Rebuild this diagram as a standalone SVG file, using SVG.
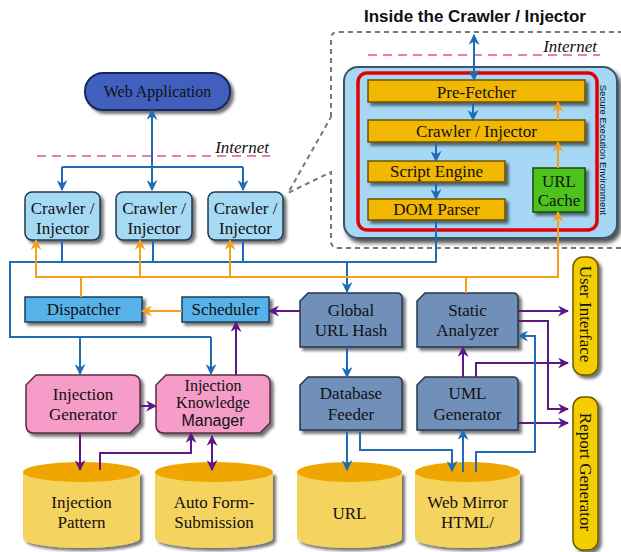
<svg xmlns="http://www.w3.org/2000/svg" width="621" height="552" viewBox="0 0 621 552">
<defs>
<filter id="sh" x="-20%" y="-20%" width="150%" height="150%">
<feDropShadow dx="3" dy="3" stdDeviation="1.5" flood-color="#000" flood-opacity="0.55"/>
</filter>
<filter id="sh2" x="-20%" y="-20%" width="150%" height="150%">
<feDropShadow dx="3" dy="4" stdDeviation="2" flood-color="#000" flood-opacity="0.7"/>
</filter>
<marker id="ab" viewBox="0 0 10 10" refX="9" refY="5" markerWidth="11" markerHeight="11" markerUnits="userSpaceOnUse" orient="auto-start-reverse"><path d="M0,0 L10,5 L0,10 L3,5 z" fill="#1F6BB5"/></marker>
<marker id="ao" viewBox="0 0 10 10" refX="9" refY="5" markerWidth="11" markerHeight="11" markerUnits="userSpaceOnUse" orient="auto-start-reverse"><path d="M0,0 L10,5 L0,10 L3,5 z" fill="#F5A11E"/></marker>
<marker id="ap" viewBox="0 0 10 10" refX="9" refY="5" markerWidth="11" markerHeight="11" markerUnits="userSpaceOnUse" orient="auto-start-reverse"><path d="M0,0 L10,5 L0,10 L3,5 z" fill="#5E1883"/></marker>
</defs>
<style>
text{font-family:"Liberation Serif","Times New Roman",serif;font-size:17px;fill:#111;text-anchor:middle}
.sans{font-family:"Liberation Sans",Arial,sans-serif}
.it{font-style:italic;text-anchor:end}
.b{fill:none;stroke:#1F6BB5;stroke-width:2}
.o{fill:none;stroke:#F5A11E;stroke-width:2}
.p{fill:none;stroke:#5E1883;stroke-width:2}
.bl{marker-end:url(#ab)}
.ol{marker-end:url(#ao)}
.pl{marker-end:url(#ap)}
.crawl{fill:#A6D9F4;stroke:#1E3A4E;stroke-width:1.5}
.disp{fill:#58B2EA;stroke:#1C3C58;stroke-width:1.5}
.steel{fill:#7090BA;stroke:#26364E;stroke-width:1.5}
.pink{fill:#F59CC8;stroke:#5E2A46;stroke-width:1.5}
.bar{fill:#F2B705;stroke:#6E5200;stroke-width:1.5}
.side{fill:#F4CE05;stroke:#6B5800;stroke-width:1.5}
.cyl{fill:#F5D35E}
.cyltop{fill:#EFA600}
</style>

<!-- Inset callout -->
<g id="inset">
<path d="M331,117 L331,39 Q331,32 338,32 L621,32 M621,248 L338,248 Q331,248 331,241 L331,172 L288,193 L331,117" fill="none" stroke="#777" stroke-width="2" stroke-dasharray="5,4"/>
<text x="475" y="22" class="sans" style="font-weight:bold">Inside the Crawler / Injector</text>
<line x1="368" y1="55" x2="600" y2="55" stroke="#EE4F9A" stroke-width="1.5" stroke-dasharray="9,6"/>
<text x="597" y="52" class="it">Internet</text>
</g>

<g id="secure-env">
<rect x="344" y="67" width="273" height="171" rx="14" fill="#A6D8F5" stroke="#3A5468" stroke-width="2" filter="url(#sh2)"/>
<rect x="358" y="73" width="239" height="157" rx="9" fill="none" stroke="#E30000" stroke-width="3.5"/>
<text class="sans" transform="translate(603,150) rotate(90)" y="3.5" style="font-size:9.5px">Secure Execution Environment</text>
</g>
<g id="pre-fetcher"><rect class="bar" x="368" y="80" width="217" height="22" filter="url(#sh)"/><text x="476.5" y="97.5">Pre-Fetcher</text></g>
<g id="crawler-injector-inner"><rect class="bar" x="368" y="120" width="217" height="22" filter="url(#sh)"/><text x="476.5" y="137">Crawler / Injector</text></g>
<g id="script-engine"><rect class="bar" x="368" y="161" width="137" height="21" filter="url(#sh)"/><text x="436.5" y="177">Script Engine</text></g>
<g id="dom-parser"><rect class="bar" x="368" y="199" width="137" height="21" filter="url(#sh)"/><text x="436.5" y="215">DOM Parser</text></g>
<g id="url-cache"><rect x="533" y="168" width="52" height="44" fill="#4DC41A" stroke="#1C4A08" stroke-width="1.5" filter="url(#sh)"/><text x="559" y="187">URL</text><text x="559" y="206">Cache</text></g>

<!-- Main nodes -->
<g id="web-app"><rect x="85" y="73" width="145" height="37" rx="18" fill="#3F5FBE" stroke="#18285A" stroke-width="2" filter="url(#sh)"/><text x="157.5" y="97" style="font-size:16px">Web Application</text></g>
<line x1="37" y1="156" x2="270" y2="156" stroke="#EE4F9A" stroke-width="1.5" stroke-dasharray="9,6"/>
<text x="269" y="153" class="it">Internet</text>

<g id="crawler1"><rect class="crawl" x="25" y="192" width="75" height="48" rx="7" filter="url(#sh)"/><text x="62.5" y="214">Crawler /</text><text x="62.5" y="234">Injector</text></g>
<g id="crawler2"><rect class="crawl" x="116" y="192" width="76" height="48" rx="7" filter="url(#sh)"/><text x="154" y="214">Crawler /</text><text x="154" y="234">Injector</text></g>
<g id="crawler3"><rect class="crawl" x="208" y="192" width="75" height="48" rx="7" filter="url(#sh)"/><text x="245.5" y="214">Crawler /</text><text x="245.5" y="234">Injector</text></g>

<g id="dispatcher"><rect class="disp" x="25" y="297" width="117" height="25" filter="url(#sh)"/><text x="83.5" y="315">Dispatcher</text></g>
<g id="scheduler"><rect class="disp" x="182" y="297" width="87" height="25" filter="url(#sh)"/><text x="225.5" y="315">Scheduler</text></g>

<g id="global-url-hash"><path class="steel" d="M308,293 L397,293 Q402,293 402,298 L402,347 L300,347 L300,301 Z" filter="url(#sh)"/><text x="351" y="316">Global</text><text x="351" y="336">URL Hash</text></g>
<g id="static-analyzer"><path class="steel" d="M425,293 L513,293 Q518,293 518,298 L518,347 L417,347 L417,301 Z" filter="url(#sh)"/><text x="467.5" y="316">Static</text><text x="467.5" y="336">Analyzer</text></g>
<g id="database-feeder"><path class="steel" d="M308,377 L397,377 Q402,377 402,382 L402,430 L300,430 L300,385 Z" filter="url(#sh)"/><text x="351" y="399">Database</text><text x="351" y="420">Feeder</text></g>
<g id="uml-generator"><path class="steel" d="M425,377 L513,377 Q518,377 518,382 L518,430 L417,430 L417,385 Z" filter="url(#sh)"/><text x="467.5" y="399">UML</text><text x="467.5" y="420">Generator</text></g>

<g id="injection-generator"><path class="pink" d="M36,375 L132,375 Q140,375 140,383 L140,423 L130,433 L34,433 Q26,433 26,425 L26,385 Z" filter="url(#sh)"/><text x="83" y="400">Injection</text><text x="83" y="420">Generator</text></g>
<g id="injection-knowledge-manager"><path class="pink" d="M166,375 L262,375 Q270,375 270,383 L270,423 L260,433 L164,433 Q156,433 156,425 L156,385 Z" filter="url(#sh)"/><text x="213" y="391" style="font-size:16px">Injection</text><text x="213" y="408" style="font-size:16px">Knowledge</text><text x="213" y="426" class="sans" style="font-size:16px">Manager</text></g>

<g id="user-interface"><rect class="side" x="573" y="257" width="25" height="118" rx="10" filter="url(#sh)"/><text transform="translate(585.5,314) rotate(90)" y="6">User Interface</text></g>
<g id="report-generator"><rect class="side" x="573" y="397" width="25" height="153" rx="10" filter="url(#sh)"/><text transform="translate(585.5,472) rotate(90)" y="6">Report Generator</text></g>

<g id="injection-pattern"><path class="cyl" d="M23,472 L23,538 A58.5,10 0 0 0 140,538 L140,472 Z" filter="url(#sh)"/><ellipse class="cyltop" cx="81.5" cy="472" rx="58.5" ry="10"/><text x="81.5" y="508">Injection</text><text x="81.5" y="528">Pattern</text></g>
<g id="auto-form"><path class="cyl" d="M155,472 L155,538 A59,10 0 0 0 273,538 L273,472 Z" filter="url(#sh)"/><ellipse class="cyltop" cx="214" cy="472" rx="59" ry="10"/><text x="214" y="508">Auto Form-</text><text x="214" y="528">Submission</text></g>
<g id="url-db"><path class="cyl" d="M297,472 L297,538 A52.5,10 0 0 0 402,538 L402,472 Z" filter="url(#sh)"/><ellipse class="cyltop" cx="349.5" cy="472" rx="52.5" ry="10"/><text x="349.5" y="519">URL</text></g>
<g id="web-mirror"><path class="cyl" d="M415,472 L415,538 A52.5,10 0 0 0 520,538 L520,472 Z" filter="url(#sh)"/><ellipse class="cyltop" cx="467.5" cy="472" rx="52.5" ry="10"/><text x="467.5" y="508">Web Mirror</text><text x="467.5" y="528">HTML/</text></g>

<!-- Connectors -->
<g id="connectors">
<!-- inset -->
<line class="b bl" x1="474" y1="35" x2="474" y2="80" style="marker-start:url(#ab)"/>
<line class="b bl" x1="473" y1="102" x2="473" y2="120"/>
<line class="b bl" x1="436" y1="142" x2="436" y2="161"/>
<line class="b bl" x1="436" y1="182" x2="436" y2="199"/>
<line class="o ol" x1="558" y1="168" x2="558" y2="142"/>
<line class="o ol" x1="558" y1="120" x2="558" y2="102"/>

<!-- web app to crawlers -->
<line class="b bl" x1="152" y1="190" x2="152" y2="110" style="marker-start:url(#ab)"/>
<path class="b bl" d="M62,167 L62,190"/>
<path class="b bl" d="M243,167 L243,190"/>
<line class="b" x1="62" y1="167" x2="243" y2="167"/>

<!-- blue bus -->
<path class="b" d="M436,220 L436,262 L10,262 L10,337 L211,337"/>
<line class="b" x1="62" y1="240" x2="62" y2="262"/>
<line class="b" x1="153" y1="240" x2="153" y2="262"/>
<line class="b" x1="243" y1="240" x2="243" y2="262"/>
<path class="b bl" d="M211,337 L211,374"/>
<path class="b bl" d="M80,337 L80,374"/>
<path class="b bl" d="M347,262 L347,292"/>

<!-- orange bus -->
<path class="o ol" d="M36,277 L558,277 L558,212"/>
<path class="o ol" d="M36,278 L36,240"/>
<path class="o ol" d="M140,277 L140,240"/>
<path class="o ol" d="M230,277 L230,240"/>
<line class="o" x1="81" y1="277" x2="81" y2="297"/>
<line class="o" x1="466" y1="277" x2="466" y2="293"/>
<path class="o ol" d="M182,311 L142,311"/>

<!-- purple -->
<path class="p pl" d="M300,311 L269,311"/>
<path class="p pl" d="M236,375 L236,322"/>
<path class="p pl" d="M140,406 L156,406"/>
<path class="p pl" d="M80,433 L80,470"/>
<path class="p pl" d="M100,470 L100,453 L191,453 L191,433"/>
<path class="p pl" d="M212,436 L212,470" style="marker-start:url(#ap)"/>
<path class="p pl" d="M463,377 L463,347"/>
<path class="p pl" d="M476,377 L476,363 L568,363"/>
<path class="p pl" d="M518,311 L568,311"/>
<path class="p pl" d="M518,321 L548,321 L548,409 L568,409"/>
<path class="p pl" d="M518,423 L568,423"/>

<!-- blue lower -->
<path class="b bl" d="M347,347 L347,377"/>
<path class="b bl" d="M347,430 L347,470"/>
<path class="b bl" d="M360,430 L360,450 L452,450 L452,471"/>
<path class="b bl" d="M463,472 L463,430"/>
<path class="b bl" d="M476,472 L476,452 L535,452 L535,336 L518,336"/>
</g>
</svg>
